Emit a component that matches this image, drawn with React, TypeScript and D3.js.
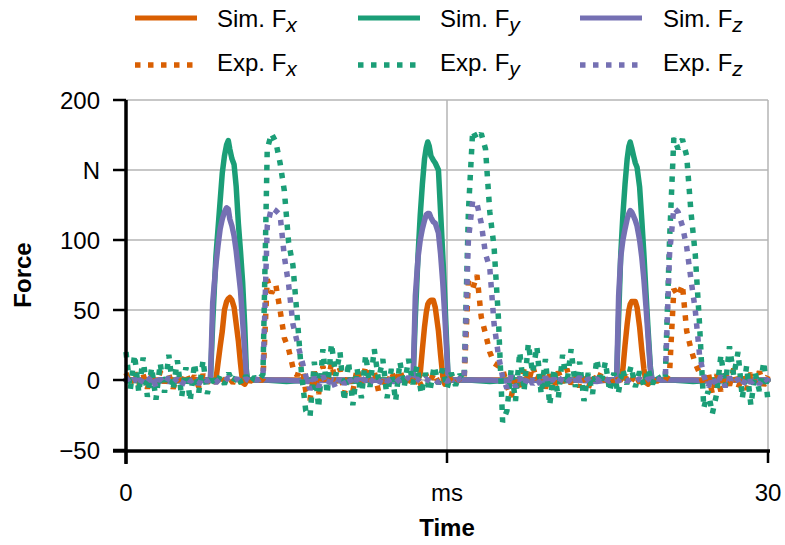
import React from "react";
import * as d3 from "d3";

const W = 785;
const H = 545;

// Sim time points (ms)
const simTime = [
  0, 1, 2, 3, 3.5,
  3.9, 3.95, 4.05, 4.2, 4.3, 4.4, 4.5, 4.6, 4.7, 4.78, 4.85, 4.95, 5.05, 5.15, 5.25, 5.35, 5.45, 5.55, 5.62, 5.68,
  6.5, 7.5, 8.5, 9.5, 10.5, 11.5, 12.5, 13,
  13.38, 13.42, 13.52, 13.65, 13.75, 13.85, 13.95, 14.03, 14.1, 14.17, 14.25, 14.36, 14.45, 14.6, 14.7, 14.8, 14.9, 14.98, 15.04, 15.1,
  16, 17, 18, 19, 20, 21, 22, 22.5,
  22.88, 22.93, 23.02, 23.12, 23.22, 23.32, 23.42, 23.5, 23.56, 23.63, 23.72, 23.8, 23.88, 24.0, 24.1, 24.2, 24.3, 24.4, 24.5, 24.58,
  25.5, 26.5, 27.5, 28.5, 29.5, 30,
];

const simFx = [
  0, 0, 0, 0, 0,
  0, 0, 0, 0, 12, 24, 35, 50, 56, 58, 59, 57, 52, 40, 28, 12, -2, -3, -1, 0,
  0, 0, 0, 0, 0, 0, 0, 0,
  0, 0, 0, 0, 5, 22, 38, 48, 54, 56, 57, 57, 52, 35, 18, 3, -3, -2, 0, 0,
  0, 0, 0, 0, 0, 0, 0, 0,
  0, 0, 0, 0, 8, 25, 40, 50, 54, 56, 56, 56, 52, 38, 22, 8, -2, -3, -1, 0,
  0, 0, 0, 0, 0, 0,
];

const simFy = [
  0, -1, 0, -1, 0,
  0, 2, 40, 88, 108, 128, 148, 160, 168, 171, 165, 158, 154, 138, 112, 92, 70, 38, 8, 0,
  0, -1, 0, 0, -1, 0, 0, 0,
  0, 2, 45, 90, 118, 140, 158, 166, 170, 167, 160, 157, 155, 150, 120, 90, 58, 28, 5, 0,
  0, -1, 0, 0, -1, 0, 0, 0,
  0, 2, 45, 90, 118, 140, 158, 167, 170, 166, 160, 155, 152, 138, 115, 90, 62, 35, 10, 0,
  0, -1, 0, 0, -1, 0,
];

const simFz = [
  0, 0, -1, 0, 0,
  0, 2, 55, 82, 96, 108, 115, 120, 123, 122, 115, 110, 103, 92, 78, 64, 42, 20, 5, 0,
  0, 0, -1, 0, 0, 0, -1, 0,
  0, 2, 60, 88, 100, 108, 114, 118, 119, 119, 116, 113, 112, 105, 90, 70, 45, 22, 5, 0,
  0, 0, -1, 0, 0, 0, -1, 0,
  0, 2, 60, 88, 100, 108, 115, 119, 121, 120, 117, 114, 110, 100, 88, 72, 52, 30, 8, 0,
  0, 0, -1, 0, 0, 0,
];

// Experimental samples, every 0.2 ms from 0 to 30
const expStep = 0.2;

const expFx = [
  5, -3, 6, -4, 4, -6, 3, -5, 6, -2,
  4, -6, 2, -4, 5, -3, 3, -5, 4, -2,
  2, -2, 3, -1, 2, -2, 1, -2, 2, -1,
  1, 0, 0, 72, 62, 68, 50, 30, 22, 9,
  3, 12, -8, -14, 6, -10, 10, -4, 12, -2,
  8, -10, 4, -8, 8, -4, 10, -2, 6, -8,
  2, -6, 6, -2, 7, -3, 4, -5, 2, -4,
  4, -1, 5, -2, 3, -3, 2, -2, 1, 0,
  70, 65, 75, 45, 33, 20, 12, 10, 8, -4,
  -12, 2, -8, 8, -2, 10, 0, 6, -6, 4,
  -8, 6, -2, 8, -3, 4, -5, 2, -6, 3,
  -2, 5, -1, 3, -4, 1, -3, 3, -1, 4,
  -2, 2, -2, 1, -1, 1, 0, 5, 65, 60,
  68, 35, 22, 12, 5, -4, 6, -10, 4, -8,
  6, -4, 8, -6, 3, -7, 5, -2, 6, -4,
  3,
];

const expFy = [
  20, -7, 18, -9, 16, -12, 9, -14, 12, -9,
  18, -7, 14, -12, 9, -15, 12, -9, 14, -10,
  4, -4, 3, -3, 5, -2, 4, -3, 3, -2,
  2, 0, 4, 165, 176, 170, 155, 135, 98, 82,
  45, 5, -22, -26, 13, -20, 22, -10, 26, 3,
  20, -15, 13, -18, 8, -13, 18, -5, 22, 0,
  15, -13, 8, -15, 13, -5, 15, -3, 10, -10,
  5, -8, 10, -3, 8, -6, 5, -4, 4, 0,
  120, 178, 172, 176, 165, 120, 95, 45, -30, -22,
  8, -15, 20, -8, 26, 5, 24, -10, 15, -18,
  8, -13, 18, -3, 22, -5, 13, -15, 5, -10,
  15, -3, 13, -8, 5, -10, 8, -3, 10, -5,
  6, -4, 8, -3, 4, -1, 2, 100, 173, 165,
  172, 160, 120, 90, 40, -20, -8, -24, -10, 18,
  -5, 24, 3, 20, -13, 10, -18, 5, -8, 13,
  -15,
];

const expFz = [
  2, -3, 1, -4, 2, -1, 3, -5, 1, -3,
  2, -2, 1, -4, 2, -1, 1, -3, 2, -1,
  1, -2, 1, -1, 2, -1, 1, -2, 1, -1,
  1, 0, 2, 110, 123, 121, 118, 88, 68, 40,
  27, 15, 3, -7, 2, -5, 3, -4, 2, -6,
  3, -3, 2, -4, 1, -3, 2, -2, 1, -3,
  2, -1, 1, -2, 1, -1, 2, -1, 1, -2,
  1, -1, 1, -2, 1, -1, 1, -1, 1, 0,
  100, 128, 126, 112, 90, 80, 40, 18, 2, -6,
  3, -5, 2, -4, 3, -3, 1, -4, 2, -2,
  1, -3, 2, -2, 1, -1, 2, -2, 1, -1,
  1, -2, 1, -1, 1, -1, 2, -1, 1, -1,
  1, -2, 1, -1, 1, 0, 1, 90, 123, 120,
  110, 95, 72, 50, 18, 3, -5, 2, -4, 3,
  -5, 2, -3, 1, -4, 2, -2, 1, -3, 2,
  -1,
];

const yTicks = [200, 150, 100, 50, 0, -50];
const yTickLabels = ["200", "N", "100", "50", "0", "\u221250"];
const xTicks = [0, 15, 30];
const xTickLabels = ["0", "ms", "30"];

const COLORS = { x: "#d95f02", y: "#1b9e77", z: "#7570b3" };
const FONT = "'Liberation Sans', Arial, Helvetica, sans-serif";

export default function App() {
  const x = d3.scaleLinear().domain([0, 30]).range([126, 768]);
  const y = d3.scaleLinear().domain([-50, 200]).range([450, 100]);

  const line = d3
    .line<[number, number]>()
    .x((d) => x(d[0]))
    .y((d) => y(d[1]));

  const simPts = (vals: number[]) =>
    simTime.map((t, i) => [t, vals[i]] as [number, number]);
  const expPts = (vals: number[]) =>
    vals.map((v, i) => [i * expStep, v] as [number, number]);

  const sims = [
    { vals: simFx, c: COLORS.x },
    { vals: simFy, c: COLORS.y },
    { vals: simFz, c: COLORS.z },
  ];
  const exps = [
    { vals: expFx, c: COLORS.x },
    { vals: expFy, c: COLORS.y },
    { vals: expFz, c: COLORS.z },
  ];

  const legendCols = [
    { x0: 135, tx: 217, c: COLORS.x, s: "x" },
    { x0: 358, tx: 440, c: COLORS.y, s: "y" },
    { x0: 580, tx: 663, c: COLORS.z, s: "z" },
  ];

  const gridY = [200, 150, 100, 50, 0];
  const gridX = [15, 30];

  return (
    <svg
      width={W}
      height={H}
      style={{ position: "absolute", left: 0, top: 0, background: "#fff" }}
      fontFamily={FONT}
    >
      <rect x={0} y={0} width={W} height={H} fill="#fff" />
      {gridY.map((v) => (
        <line key={"gy" + v} x1={x(0)} x2={x(30)} y1={y(v)} y2={y(v)} stroke="#b4b4b4" strokeWidth={1.5} />
      ))}
      {gridX.map((v) => (
        <line key={"gx" + v} x1={x(v)} x2={x(v)} y1={y(200)} y2={y(-50)} stroke="#b4b4b4" strokeWidth={1.5} />
      ))}

      {sims.map((s, i) => (
        <path
          key={"s" + i}
          d={line(simPts(s.vals)) || ""}
          fill="none"
          stroke={s.c}
          strokeWidth={5.5}
          strokeLinejoin="round"
          strokeLinecap="round"
        />
      ))}
      {exps.map((s, i) => (
        <path
          key={"e" + i}
          d={line(expPts(s.vals)) || ""}
          fill="none"
          stroke={s.c}
          strokeWidth={5.5}
          strokeDasharray="5.5,7.5"
          strokeLinejoin="bevel"
        />
      ))}

      <line x1={x(0)} x2={x(0)} y1={y(200)} y2={y(-50) + 14} stroke="#000" strokeWidth={3.5} />
      <line x1={x(0) - 13} x2={x(30) + 2} y1={y(-50) + 1} y2={y(-50) + 1} stroke="#000" strokeWidth={3.5} />
      {yTicks.map((v) => (
        <line key={"yt" + v} x1={x(0) - 13} x2={x(0)} y1={y(v)} y2={y(v)} stroke="#000" strokeWidth={2.5} />
      ))}
      {xTicks.map((v) => (
        <line key={"xt" + v} x1={x(v)} x2={x(v)} y1={y(-50)} y2={y(-50) + 13} stroke="#000" strokeWidth={2.5} />
      ))}
      {yTicks.map((v, i) => (
        <text key={"yl" + v} x={100} y={y(v)} dy="0.36em" textAnchor="end" fontSize={24} fill="#000">
          {yTickLabels[i]}
        </text>
      ))}
      {xTicks.map((v, i) => (
        <text key={"xl" + v} x={x(v)} y={501} textAnchor="middle" fontSize={24} fill="#000">
          {xTickLabels[i]}
        </text>
      ))}
      <text x={447} y={536} textAnchor="middle" fontSize={24} fontWeight="bold" fill="#000">
        Time
      </text>
      <text
        transform={`translate(31,275) rotate(-90)`}
        textAnchor="middle"
        fontSize={24}
        fontWeight="bold"
        fill="#000"
      >
        Force
      </text>

      {legendCols.map((l) => (
        <g key={"lg" + l.s}>
          <line x1={l.x0} x2={l.x0 + 62} y1={18} y2={18} stroke={l.c} strokeWidth={5} />
          <text x={l.tx} y={27} fontSize={24} fill="#000">
            Sim. F
            <tspan fontStyle="italic" fontSize={21} dy={5}>
              {l.s}
            </tspan>
          </text>
          <line
            x1={l.x0}
            x2={l.x0 + 62}
            y1={65}
            y2={65}
            stroke={l.c}
            strokeWidth={5.5}
            strokeDasharray="5.5,7.5"
          />
          <text x={l.tx} y={71} fontSize={24} fill="#000">
            Exp. F
            <tspan fontStyle="italic" fontSize={21} dy={5}>
              {l.s}
            </tspan>
          </text>
        </g>
      ))}
    </svg>
  );
}
